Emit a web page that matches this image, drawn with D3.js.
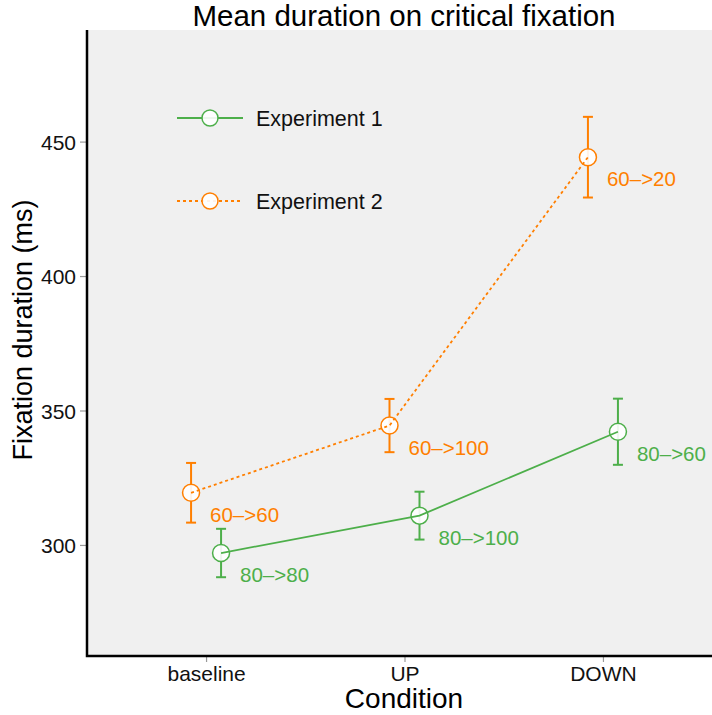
<!DOCTYPE html>
<html>
<head>
<meta charset="utf-8">
<script src="https://cdn.jsdelivr.net/npm/d3@7"></script>
<style>
  body { margin: 0; background: #fff; }
  svg text { font-family: "Liberation Sans", Arial, Helvetica, sans-serif; }
</style>
</head>
<body>
<main></main>
<script>
// Data
const conditions = ["baseline", "UP", "DOWN"];
const exp1Means = [297.0, 310.9, 342.1];
const exp1Errors = [9.0, 8.9, 12.3];
const exp1Labels = ["80\u2013>80", "80\u2013>100", "80\u2013>60"];
const exp2Means = [319.4, 344.4, 444.2];
const exp2Errors = [11.1, 9.9, 15.0];
const exp2Labels = ["60\u2013>60", "60\u2013>100", "60\u2013>20"];
const seriesNames = ["Experiment 1", "Experiment 2"];
const yTicks = [300, 350, 400, 450];

// Constants for dimensions
const width = 712;
const height = 715;
const panel = { left: 87, right: 722, top: 30, bottom: 656 };
const dodge = 15;

const colors = ["#4daf4a", "#ff7f00"];
const dashes = [null, "3,3"];

const series = seriesNames.map((name, s) => ({
  name,
  color: colors[s],
  dash: dashes[s],
  offset: s === 0 ? dodge : -dodge,
  points: conditions.map((c, i) => ({
    cond: c,
    mean: s === 0 ? exp1Means[i] : exp2Means[i],
    err: s === 0 ? exp1Errors[i] : exp2Errors[i],
    label: s === 0 ? exp1Labels[i] : exp2Labels[i],
  })),
}));

const svg = d3
  .select("main")
  .append("svg")
  .attr("width", width)
  .attr("height", height);

// Scales
const xScale = d3
  .scalePoint()
  .domain(conditions)
  .range([panel.left, panel.right])
  .padding(0.6);

const yScale = d3
  .scaleLinear()
  .domain([258.7, 491.5])
  .range([panel.bottom, panel.top]);

// Panel background
svg
  .append("rect")
  .attr("x", panel.left)
  .attr("y", panel.top)
  .attr("width", width - panel.left)
  .attr("height", panel.bottom - panel.top)
  .attr("fill", "#f0f0f0");

// Axes
const xAxis = d3.axisBottom(xScale).tickSize(6).tickPadding(4);
const yAxis = d3.axisLeft(yScale).tickValues(yTicks).tickSize(7).tickPadding(4);

const gx = svg
  .append("g")
  .attr("transform", `translate(0, ${panel.bottom})`)
  .call(xAxis);
gx.select(".domain").remove();
gx.selectAll(".tick line").attr("stroke", "#999").attr("stroke-width", 1.2);
gx.selectAll(".tick text")
  .attr("fill", "#111")
  .style("font-size", "21px");

const gy = svg
  .append("g")
  .attr("transform", `translate(${panel.left}, 0)`)
  .call(yAxis);
gy.select(".domain").remove();
gy.selectAll(".tick line").attr("stroke", "#999").attr("stroke-width", 1.2);
gy.selectAll(".tick text")
  .attr("fill", "#111")
  .attr("dy", "0.36em")
  .style("font-size", "21px");

// Axis lines (left and bottom only)
svg
  .append("path")
  .attr("d", `M${panel.left},${panel.top}V${panel.bottom}H${width}`)
  .attr("fill", "none")
  .attr("stroke", "#000")
  .attr("stroke-width", 2.5);

// Titles
svg
  .append("text")
  .attr("x", 404)
  .attr("y", 26)
  .attr("text-anchor", "middle")
  .style("font-size", "29.5px")
  .text("Mean duration on critical fixation");

svg
  .append("text")
  .attr("x", 404)
  .attr("y", 708)
  .attr("text-anchor", "middle")
  .style("font-size", "28px")
  .text("Condition");

svg
  .append("text")
  .attr("transform", `translate(32, 330) rotate(-90)`)
  .attr("text-anchor", "middle")
  .style("font-size", "27px")
  .text("Fixation duration (ms)");

// Series groups
const groups = svg
  .selectAll(".series")
  .data(series)
  .enter()
  .append("g")
  .attr("class", "series");

const px = (s, d) => xScale(d.cond) + s.offset;

// Error bars
groups.each(function (s) {
  const g = d3.select(this);
  const bars = g
    .selectAll(".err")
    .data(s.points)
    .enter()
    .append("g")
    .attr("stroke", s.color)
    .attr("stroke-width", 2);
  bars
    .append("line")
    .attr("x1", (d) => px(s, d))
    .attr("x2", (d) => px(s, d))
    .attr("y1", (d) => yScale(d.mean - d.err))
    .attr("y2", (d) => yScale(d.mean + d.err));
  [-1, 1].forEach((sign) => {
    bars
      .append("line")
      .attr("x1", (d) => px(s, d) - 5)
      .attr("x2", (d) => px(s, d) + 5)
      .attr("y1", (d) => yScale(d.mean + sign * d.err))
      .attr("y2", (d) => yScale(d.mean + sign * d.err));
  });
});

// Points
groups.each(function (s) {
  d3.select(this)
    .selectAll(".pt")
    .data(s.points)
    .enter()
    .append("circle")
    .attr("cx", (d) => px(s, d))
    .attr("cy", (d) => yScale(d.mean))
    .attr("r", 8.5)
    .attr("fill", "#fff")
    .attr("fill-opacity", 0.9)
    .attr("stroke", s.color)
    .attr("stroke-width", 1.5);
});

// Connecting lines
const line = d3.line();
groups.each(function (s) {
  d3.select(this)
    .append("path")
    .attr("d", line(s.points.map((d) => [px(s, d), yScale(d.mean)])))
    .attr("fill", "none")
    .attr("stroke", s.color)
    .attr("stroke-width", 1.8)
    .attr("stroke-dasharray", s.dash);
});

// Point labels
groups.each(function (s) {
  d3.select(this)
    .selectAll(".lbl")
    .data(s.points)
    .enter()
    .append("text")
    .attr("x", (d) => px(s, d) + 19)
    .attr("y", (d) => yScale(d.mean) + 29)
    .attr("fill", s.color)
    .style("font-size", "20.5px")
    .text((d) => d.label);
});

// Legend
const legend = svg
  .selectAll(".legend")
  .data(series)
  .enter()
  .append("g")
  .attr("transform", (d, i) => `translate(177, ${118 + i * 83})`);

legend
  .append("line")
  .attr("x1", 0)
  .attr("x2", 66)
  .attr("stroke", (d) => d.color)
  .attr("stroke-width", 1.8)
  .attr("stroke-dasharray", (d) => d.dash);

legend
  .append("circle")
  .attr("cx", 33)
  .attr("r", 8)
  .attr("fill", "#fff")
  .attr("fill-opacity", 0.9)
  .attr("stroke", (d) => d.color)
  .attr("stroke-width", 1.5);

legend
  .append("text")
  .attr("x", 79)
  .attr("dy", "0.36em")
  .style("font-size", "21.5px")
  .attr("fill", "#111")
  .text((d) => d.name);
</script>
</body>
</html>
